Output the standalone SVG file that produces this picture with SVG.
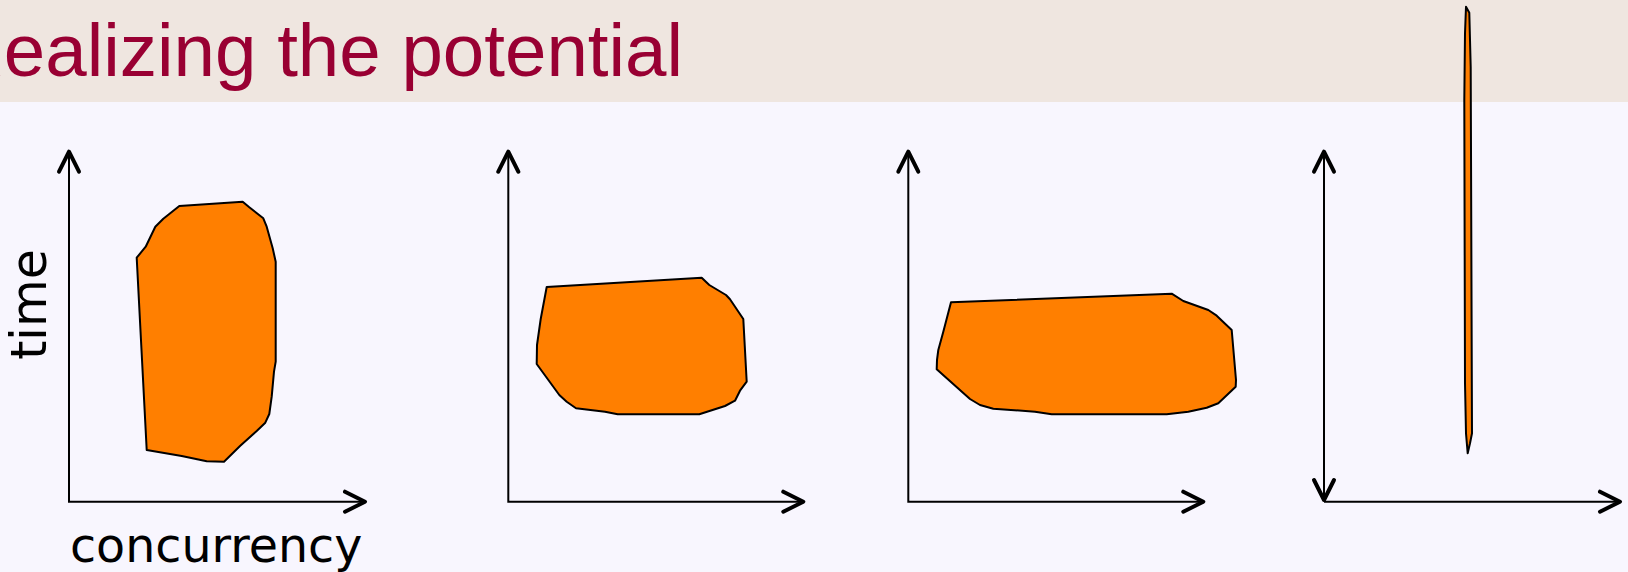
<svg xmlns="http://www.w3.org/2000/svg" width="1628" height="572" viewBox="0 0 1628 572">
<style>
.title{font-family:"Liberation Sans",Arial,sans-serif;font-size:74.5px;fill:#990033}
.lbl{font-family:"DejaVu Sans",Verdana,sans-serif;font-size:47.5px;fill:#000}
.blob{fill:#FF7F00;stroke:#000;stroke-width:2;stroke-linejoin:round}
.axis{fill:none;stroke:#000;stroke-width:2}
</style>
<defs>
<marker id="arr" viewBox="-25 -14 30 28" markerWidth="30" markerHeight="28" refX="0" refY="0" orient="auto-start-reverse" markerUnits="userSpaceOnUse">
<path d="M-20,-10 L0,0 L-20,10" fill="none" stroke="#000" stroke-width="4" stroke-linecap="round" stroke-linejoin="round"/>
</marker>
</defs>
<rect x="0" y="0" width="1628" height="572" fill="#F8F6FE"/>
<rect x="0" y="0" width="1628" height="102" fill="#EFE6E0"/>
<text class="title" x="-50" y="76">Realizing the potential</text>
<g id="connectors">
<polyline class="axis" points="69,151.7 69,501.7 365,501.7" marker-start="url(#arr)" marker-end="url(#arr)"/>
<polyline class="axis" points="508.3,151.7 508.3,501.7 803.3,501.7" marker-start="url(#arr)" marker-end="url(#arr)"/>
<polyline class="axis" points="908.3,151.7 908.3,501.7 1203.3,501.7" marker-start="url(#arr)" marker-end="url(#arr)"/>
<line class="axis" x1="1324" y1="151.7" x2="1324" y2="500" marker-start="url(#arr)" marker-end="url(#arr)"/>
<line class="axis" x1="1324" y1="501.7" x2="1620" y2="501.7" marker-end="url(#arr)"/>
</g>
<g id="graph1">
<polygon class="blob" points="136.7,257.7 145.7,246.7 155.3,226.7 163.3,218.7 179.3,206 242.7,201.7 249.3,207.3 263.3,218.3 266.7,226.7 272.7,248.3 275.7,261.7 275.7,361.7 274,371.7 271.7,396.7 269.3,414 265.3,422.7 256.7,431 240,446 224,461.7 206.7,461.3 181.7,456 146.7,450"/>
<text class="lbl" text-anchor="middle" style="font-size:49px" transform="translate(46,304.5) rotate(-90)">time</text>
<text class="lbl" x="70" y="562">concurrency</text>
</g>
<g id="graph2">
<polygon class="blob" points="546.7,287 701.7,277.7 709.3,285 726,295 730,299.3 743.3,319 746.7,381.7 740,390.7 735,400.7 725,406 699.3,414.3 617.7,414.3 605,411.7 576,408.3 566.7,401.7 559.3,395 536.7,364 537,345 540.7,319"/>
</g>
<g id="graph3">
<polygon class="blob" points="951,302.3 1171.7,293.7 1183.3,301 1208.3,310 1216.7,315.7 1231.7,330 1236,380 1235.7,386.7 1218.3,403.3 1206.7,407.7 1188.3,411.7 1166.7,414.3 1051.7,414.3 1035,411.7 993.3,408.7 980,405 970,399 936.7,369.3 937,360 938.3,350 943.3,331.7"/>
</g>
<g id="graph4">
<polygon class="blob" points="1466,6.7 1469.3,12.7 1470.7,66.7 1472,433.3 1470,443.3 1467.7,453.3 1466,433.3 1465,383.3 1464.3,100 1465,33.3"/>
</g>
</svg>
